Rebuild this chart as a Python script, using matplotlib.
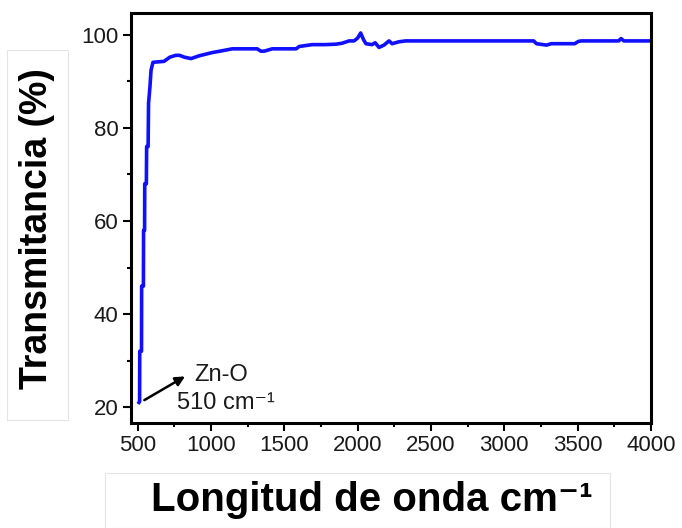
import matplotlib
matplotlib.use("Agg")
import matplotlib.pyplot as plt
from matplotlib.patches import Rectangle
from matplotlib.ticker import MultipleLocator

plt.rcParams['font.family'] = ['Liberation Sans', 'DejaVu Sans']

# FTIR spectrum (wavenumber cm-1, transmittance %)
wavenumber = [510, 514, 515, 527, 528, 540, 541, 548, 549, 560, 562, 572, 575,
              585, 592, 605, 640, 680, 720, 760, 786, 820, 865, 920, 1010,
              1080, 1146, 1230, 1316, 1340, 1364, 1418, 1500, 1581, 1602,
              1690, 1780, 1853, 1894, 1942, 1976, 2000, 2021, 2040, 2057,
              2098, 2120, 2146, 2180, 2214, 2236, 2280, 2327, 2600, 3000,
              3200, 3220, 3288, 3320, 3480, 3506, 3527, 3560, 3780, 3796,
              3815, 4000]
transmittance = [21.0, 21.2, 32.0, 32.0, 46.0, 46.0, 58.0, 58.0, 68.0, 68.0,
                 76.0, 76.0, 85.3, 89.0, 92.4, 94.1, 94.2, 94.3, 95.2, 95.6,
                 95.6, 95.2, 94.9, 95.5, 96.2, 96.6, 97.0, 97.0, 97.0, 96.5,
                 96.5, 97.0, 97.0, 97.0, 97.5, 97.9, 97.9, 98.0, 98.2, 98.7,
                 98.7, 99.3, 100.4, 99.0, 98.1, 97.9, 98.3, 97.3, 97.8, 98.7,
                 98.1, 98.5, 98.7, 98.7, 98.7, 98.7, 98.1, 97.8, 98.1, 98.1,
                 98.6, 98.7, 98.7, 98.7, 99.2, 98.7, 98.7]

x_ticks = [500, 1000, 1500, 2000, 2500, 3000, 3500, 4000]
y_ticks = [20, 40, 60, 80, 100]

fig = plt.figure(figsize=(6.82, 5.28), dpi=100)
ax = fig.add_axes([0.192, 0.199, 0.7625, 0.7764])

ax.plot(wavenumber, transmittance, color="#1010ff", linewidth=2.6)

ax.set_xlim(455, 4000)
ax.set_ylim(16.6, 104.7)
ax.set_xticks(x_ticks)
ax.set_yticks(y_ticks)
ax.xaxis.set_minor_locator(MultipleLocator(250))
ax.yaxis.set_minor_locator(MultipleLocator(10))
ax.tick_params(which="major", direction="out", length=6, width=1.5,
               labelsize=16, pad=3, labelcolor="#1a1a1a")
ax.tick_params(which="minor", direction="out", length=3, width=1.5)
for sp in ax.spines.values():
    sp.set_linewidth(2.2)

# peak annotation
ax.annotate("", xy=(840, 26.9), xytext=(530, 21.2),
            arrowprops=dict(arrowstyle="-|>", color="black", lw=1.8,
                            mutation_scale=14))
ax.text(888, 26.9, "Zn-O", fontsize=17, ha="left", va="center",
        color="#1a1a1a")
ax.text(772, 20.8, "510 cm\u207b\u00b9", fontsize=17, ha="left", va="center",
        color="#1a1a1a")

# label boxes
fig.patches.append(Rectangle((7 / 682, 1 - 420 / 528), 61 / 682, 370 / 528,
                             transform=fig.transFigure, facecolor="white",
                             edgecolor="#e4e4e4", linewidth=0.8))
fig.patches.append(Rectangle((105 / 682, 0.0), 505 / 682, 55 / 528,
                             transform=fig.transFigure, facecolor="white",
                             edgecolor="#e4e4e4", linewidth=0.8))

fig.text(37 / 682, 1 - 229 / 528, "Transmitancia (%)", rotation=90,
         fontsize=27, fontweight="bold", ha="center", va="center")
fig.text(372 / 682, 1 - 500 / 528, "Longitud de onda cm\u207b\u00b9",
         fontsize=29, fontweight="bold", ha="center", va="center")

fig.savefig("out.png", dpi=100)
